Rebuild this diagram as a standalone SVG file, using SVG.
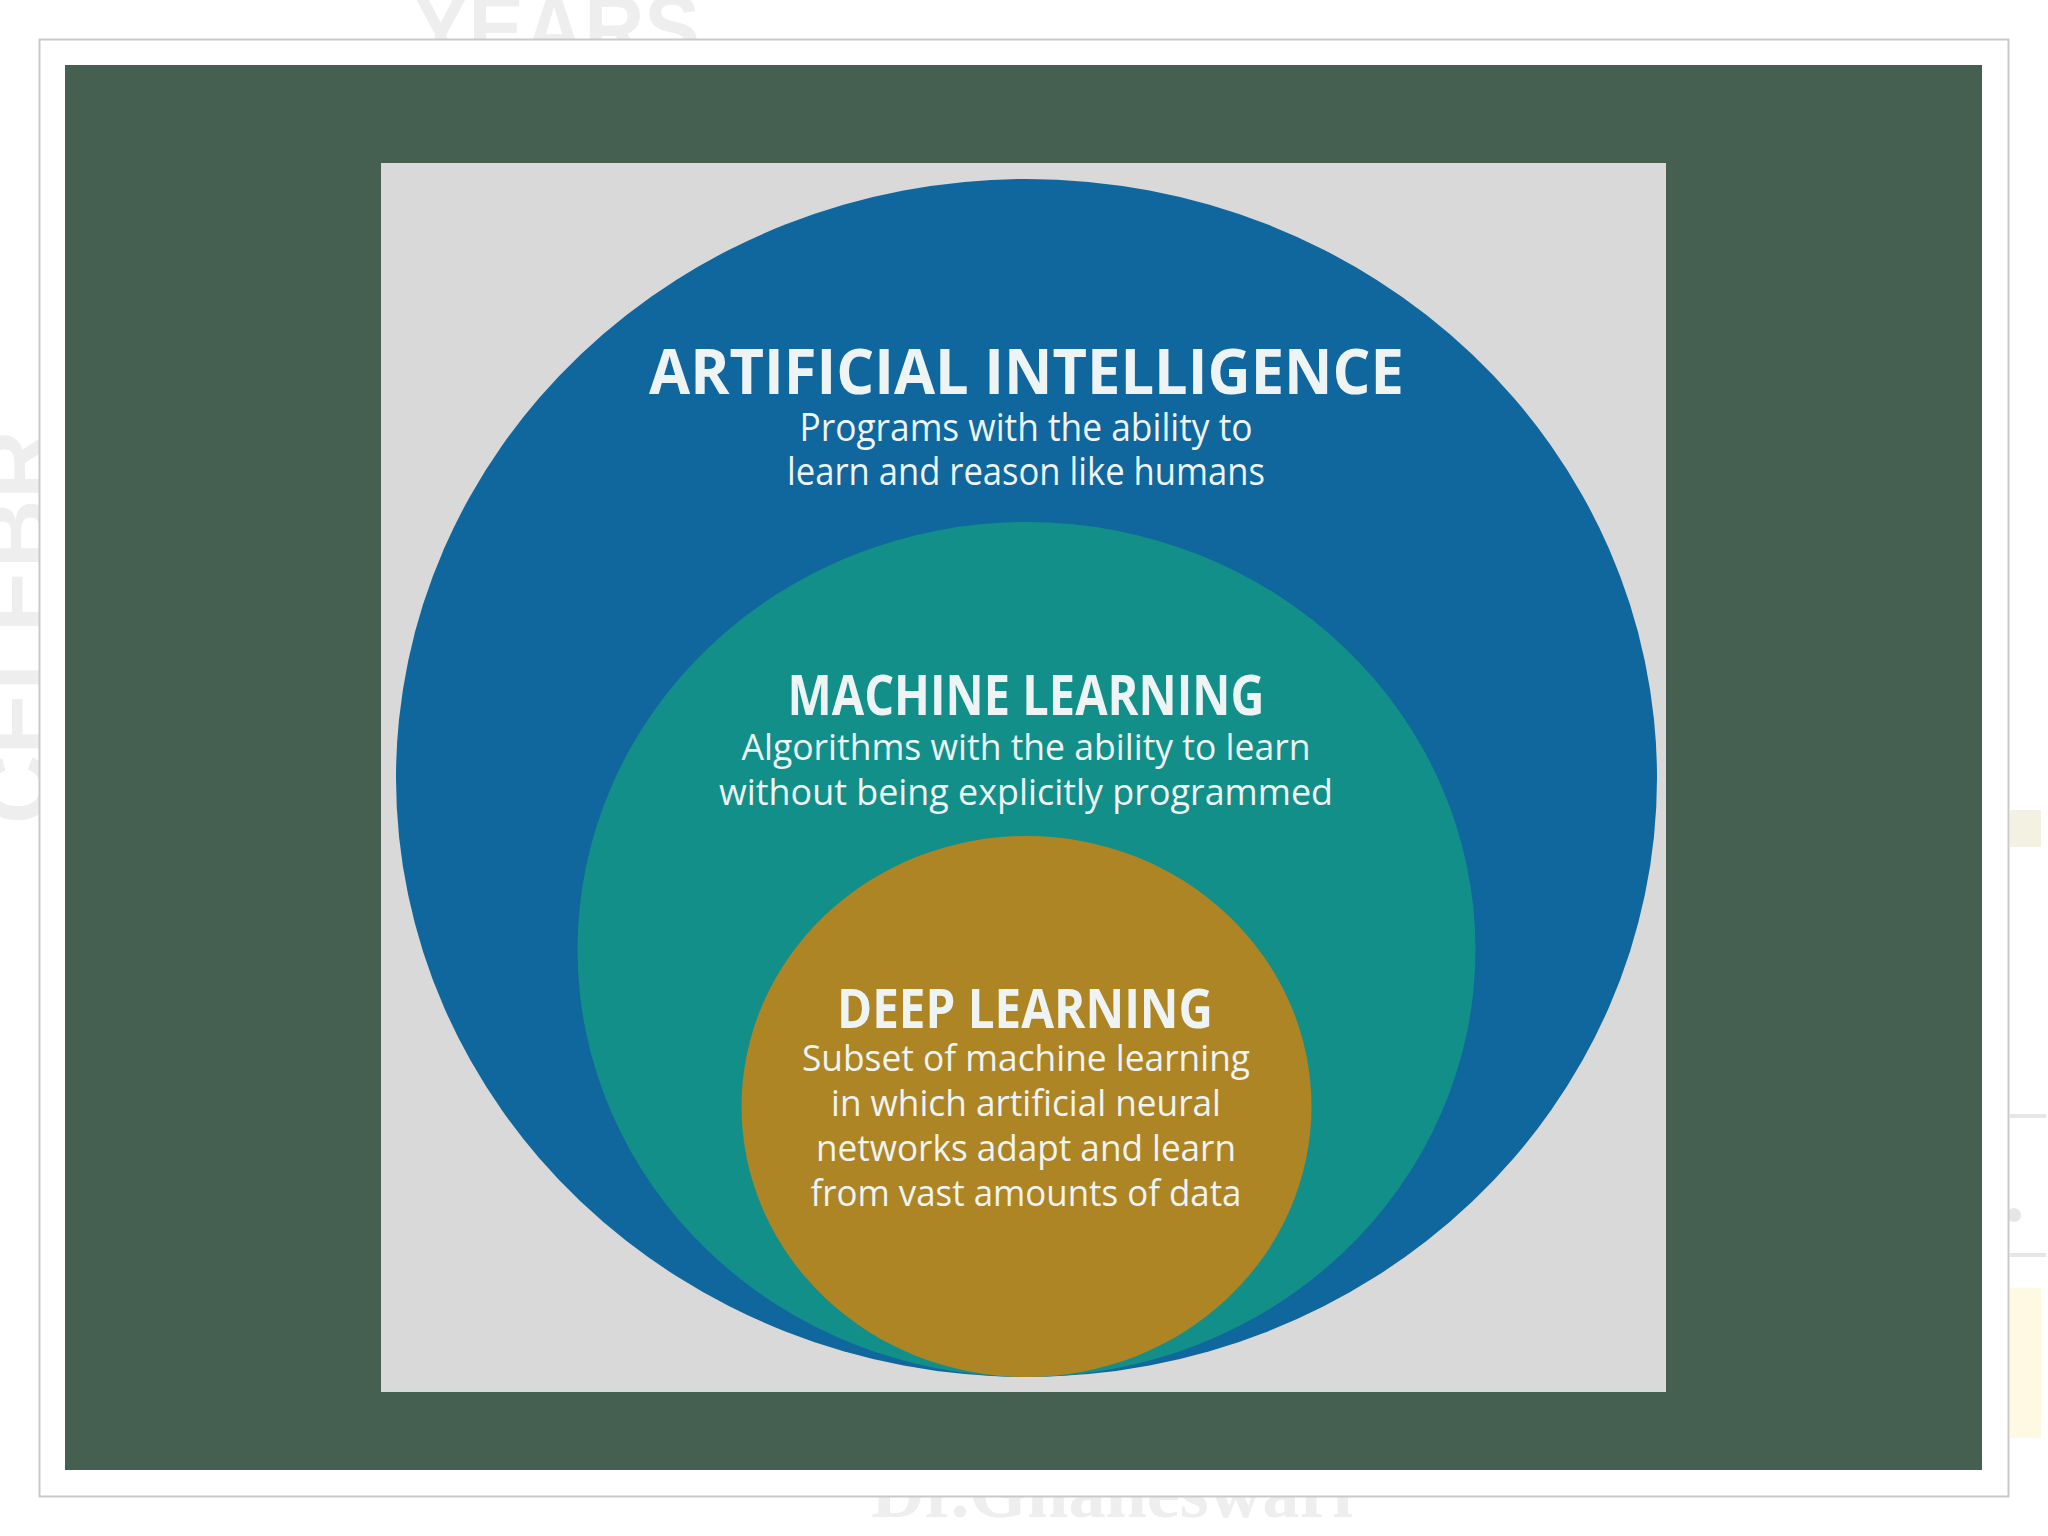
<svg xmlns="http://www.w3.org/2000/svg" width="2048" height="1536" viewBox="0 0 2048 1536">
  <style>
    .wm { font-family: "Liberation Sans", Arial, sans-serif; font-weight: bold; fill: #eeeeee; }
    .wms { font-family: "Liberation Serif", "Times New Roman", serif; font-weight: bold; fill: #eeeeee; }
    .title { font-family: "Open Sans", "Noto Sans", sans-serif; font-weight: bold; fill: #eef3f4; text-anchor: middle; }
    .sub { font-family: "Open Sans", "Noto Sans", sans-serif; font-weight: normal; fill: #eef3f4; text-anchor: middle; }
  </style>
  <rect width="2048" height="1536" fill="#ffffff"/>
  <!-- faint background watermark -->
  <g id="watermark">
    <text class="wm" x="413" y="60" font-size="92" textLength="287" lengthAdjust="spacingAndGlyphs">YEARS</text>
    <text class="wm" transform="translate(50,824) rotate(-90)" font-size="95" textLength="394" lengthAdjust="spacingAndGlyphs">CELEBR</text>
    <text class="wms" x="871" y="1517" font-size="73" textLength="482" lengthAdjust="spacingAndGlyphs">Dr.Gnaneswari</text>
    <rect x="2010" y="810" width="31" height="37" fill="#f3f2e2"/>
    <rect x="2010" y="1114" width="36" height="4" fill="#e6e6e6"/>
    <circle cx="2014" cy="1215" r="7" fill="#e6e6e6"/>
    <rect x="2010" y="1253" width="36" height="4" fill="#e6e6e6"/>
    <rect x="2010" y="1288" width="31" height="150" fill="#fdf9e3"/>
  </g>
  <!-- slide frame -->
  <rect id="frame" x="39.5" y="39.5" width="1969" height="1457" fill="#ffffff" stroke="#c9c9c9" stroke-width="2"/>
  <rect id="slide" x="65" y="65" width="1917" height="1405" fill="#455f50"/>
  <rect id="panel" x="381" y="163" width="1285" height="1229" fill="#d9d9d9"/>
  <g id="node-ai">
    <ellipse cx="1026.5" cy="778" rx="630.5" ry="599" fill="#0f679e"/>
    <text class="title" x="1026.5" y="394" font-size="62" textLength="755" lengthAdjust="spacingAndGlyphs">ARTIFICIAL INTELLIGENCE</text>
    <text class="sub" x="1026" y="441" font-size="38" textLength="453" lengthAdjust="spacingAndGlyphs">Programs with the ability to</text>
    <text class="sub" x="1026" y="485" font-size="38" textLength="478" lengthAdjust="spacingAndGlyphs">learn and reason like humans</text>
  </g>
  <g id="node-ml">
    <ellipse cx="1026.5" cy="949.5" rx="449" ry="427.5" fill="#138f89"/>
    <text class="title" x="1026" y="715" font-size="55" textLength="477" lengthAdjust="spacingAndGlyphs">MACHINE LEARNING</text>
    <text class="sub" x="1026" y="760" font-size="37" textLength="569" lengthAdjust="spacingAndGlyphs">Algorithms with the ability to learn</text>
    <text class="sub" x="1026" y="805" font-size="37" textLength="614" lengthAdjust="spacingAndGlyphs">without being explicitly programmed</text>
  </g>
  <g id="node-dl">
    <ellipse cx="1026.5" cy="1106.5" rx="285" ry="270.5" fill="#ad8524"/>
    <text class="title" x="1025" y="1028" font-size="54" textLength="376" lengthAdjust="spacingAndGlyphs">DEEP LEARNING</text>
    <text class="sub" x="1026" y="1071" font-size="37" textLength="448" lengthAdjust="spacingAndGlyphs">Subset of machine learning</text>
    <text class="sub" x="1026" y="1116" font-size="37" textLength="390" lengthAdjust="spacingAndGlyphs">in which artificial neural</text>
    <text class="sub" x="1026" y="1161" font-size="37" textLength="420" lengthAdjust="spacingAndGlyphs">networks adapt and learn</text>
    <text class="sub" x="1026" y="1206" font-size="37" textLength="431" lengthAdjust="spacingAndGlyphs">from vast amounts of data</text>
  </g>
  <g id="connectors"></g>
</svg>
